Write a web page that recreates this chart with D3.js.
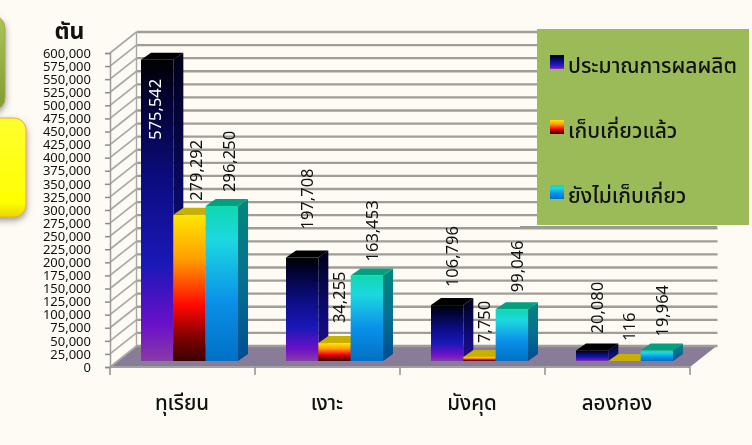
<!DOCTYPE html>
<html>
<head>
<meta charset="utf-8">
<script src="https://cdn.jsdelivr.net/npm/d3@7"></script>
<style>
  html, body { margin: 0; padding: 0; background: #fefbf5; overflow: hidden; }
  text { font-family: "Noto Sans", "Noto Sans Thai", Tahoma, sans-serif; fill: #111; }
  svg { filter: blur(0.35px); }
</style>
</head>
<body>
<script>
const categories = ['ทุเรียน', 'เงาะ', 'มังคุด', 'ลองกอง']
const seriesNames = ['ประมาณการผลผลิต', 'เก็บเกี่ยวแล้ว', 'ยังไม่เก็บเกี่ยว']
const forecast = [575542, 197708, 106796, 20080]
const harvested = [279292, 34255, 7750, 116]
const notHarvested = [296250, 163453, 99046, 19964]
const yTicks = [0, 25000, 50000, 75000, 100000, 125000, 150000, 175000, 200000, 225000, 250000, 275000, 300000,
  325000, 350000, 375000, 400000, 425000, 450000, 475000, 500000, 525000, 550000, 575000, 600000]
const unit = 'ตัน'

const seriesValues = [forecast, harvested, notHarvested]
const gradStops = [
  [[0, '#000000'], [0.12, '#02022e'], [0.4, '#0c0c80'], [0.68, '#1a18b8'], [0.88, '#6a10c8'], [1, '#8a3aa8']],
  [[0, '#ffe600'], [0.3, '#ffa000'], [0.62, '#ff0800'], [0.85, '#7a0000'], [1, '#3a0000']],
  [[0, '#10d8b0'], [0.22, '#1cd8e0'], [0.62, '#0a90e8'], [1, '#0070c4']]
]
const topColors = ['#000000', '#c8b000', '#00a080']
const sideStops = [
  [[0, '#000018'], [0.6, '#0c0c78'], [1, '#2a0c80']],
  [[0, '#a08000'], [1, '#300000']],
  [[0, '#008878'], [0.5, '#087090'], [1, '#004c90']]
]

const m = { width: 752, height: 445 }
const depth = { x: 26.5, y: 21 }
const barDepth = { x: 10, y: 7 }
const floorLift = 6
// hand placed labels in the original, extra lift per category then series
const labelLift = [[0, 0, 0], [14, 6, 0], [4, 0, 3], [3, 6, 0]]

const svg = d3.select('body').append('svg')
  .attr('width', m.width)
  .attr('height', m.height)
  .style('display', 'block')

const defs = svg.append('defs')

function addGradient(id, stops) {
  const g = defs.append('linearGradient').attr('id', id)
    .attr('x1', 0).attr('y1', 0).attr('x2', 0).attr('y2', 1)
  stops.forEach(s => g.append('stop').attr('offset', s[0]).attr('stop-color', s[1]))
}
gradStops.forEach((s, i) => addGradient('front' + i, s))
sideStops.forEach((s, i) => addGradient('side' + i, s))
addGradient('greenBox', [[0, '#a8c45c'], [1, '#7f9c34']])
addGradient('yellowBox', [[0, '#ffff30'], [0.85, '#ffff00'], [1, '#e8d800']])

const blur = defs.append('filter').attr('id', 'shadow')
  .attr('x', '-30%').attr('y', '-30%').attr('width', '160%').attr('height', '160%')
blur.append('feDropShadow').attr('dx', 0).attr('dy', 3).attr('stdDeviation', 3)
  .attr('flood-color', '#555').attr('flood-opacity', 0.6)

const y = d3.scaleLinear().domain([0, 600000]).range([367, 53])
const x0 = d3.scaleBand().domain(categories).range([110, 690])
const x1 = d3.scaleBand().domain(d3.range(3)).range([31, 128])

// left hand boxes cut off by the slide edge
svg.append('rect').attr('x', -30).attr('y', 16).attr('width', 35).attr('height', 94).attr('rx', 12)
  .attr('fill', 'url(#greenBox)').attr('stroke', '#b5a040').attr('filter', 'url(#shadow)')
svg.append('rect').attr('x', -30).attr('y', 118).attr('width', 56).attr('height', 99).attr('rx', 12)
  .attr('fill', 'url(#yellowBox)').attr('stroke', '#f0a830').attr('filter', 'url(#shadow)')

// floor
const floor = d3.path()
floor.moveTo(110, y(0))
floor.lineTo(690, y(0))
floor.lineTo(690 + depth.x, y(0) - depth.y)
floor.lineTo(110 + depth.x, y(0) - depth.y)
floor.closePath()
svg.append('path').attr('d', floor.toString()).attr('fill', '#897c98')

// wall grid
const grid = svg.append('g')
grid.selectAll('.gridH').data(yTicks).enter().append('line')
  .attr('x1', 110 + depth.x).attr('x2', 690 + depth.x + 1)
  .attr('y1', d => y(d) - depth.y).attr('y2', d => y(d) - depth.y)
  .attr('stroke', '#a09c96').attr('stroke-width', 2.4)
grid.selectAll('.gridD').data(yTicks).enter().append('line')
  .attr('x1', 110).attr('x2', 110 + depth.x)
  .attr('y1', d => y(d)).attr('y2', d => y(d) - depth.y)
  .attr('stroke', '#a8a8a4').attr('stroke-width', 1.7)
grid.append('line').attr('x1', 110 + depth.x).attr('x2', 110 + depth.x)
  .attr('y1', y(600000) - depth.y).attr('y2', y(0) - depth.y)
  .attr('stroke', '#a8a8a4').attr('stroke-width', 1.4)

// axes
const yAxis = svg.append('g').attr('transform', 'translate(110,0)')
  .call(d3.axisLeft(y).tickValues(yTicks).tickFormat(d3.format(',')).tickSize(5).tickPadding(14))
yAxis.selectAll('text').style('font-size', '13px').attr('fill', '#111')
yAxis.selectAll('line').attr('stroke', '#8c8c8c').attr('stroke-width', 1.5)
yAxis.select('.domain').attr('stroke', '#9a9a9a').attr('stroke-width', 1.5)

const xAxis = svg.append('g').attr('transform', 'translate(0,' + y(0) + ')')
xAxis.append('line').attr('x1', 110).attr('x2', 690).attr('stroke', '#a0a0a0').attr('stroke-width', 2)
xAxis.selectAll('.tick').data(d3.range(5)).enter().append('line')
  .attr('x1', d => 110 + d * x0.bandwidth()).attr('x2', d => 110 + d * x0.bandwidth())
  .attr('y1', 0).attr('y2', 8)
  .attr('stroke', '#909090').attr('stroke-width', 1.5)

svg.selectAll('.cat').data(categories).enter().append('text')
  .attr('x', d => x0(d) + x0.bandwidth() / 2 - 0.5)
  .attr('y', 410)
  .attr('text-anchor', 'middle')
  .style('font-size', '20.5px')
  .style('font-weight', 500)
  .text(d => d)

// 3d bars, front row left to right so later ones cover the earlier side faces
const bars = svg.append('g')
categories.forEach((cat, c) => {
  seriesValues.forEach((vals, s) => {
    const left = x0(cat) + x1(s)
    const right = left + x1.bandwidth()
    const base = y(0) - floorLift
    const top = y(vals[c]) - floorLift

    const side = d3.path()
    side.moveTo(right, top)
    side.lineTo(right + barDepth.x, top - barDepth.y)
    side.lineTo(right + barDepth.x, base - barDepth.y)
    side.lineTo(right, base)
    side.closePath()
    bars.append('path').attr('d', side.toString()).attr('fill', 'url(#side' + s + ')')

    const roof = d3.path()
    roof.moveTo(left, top)
    roof.lineTo(left + barDepth.x, top - barDepth.y)
    roof.lineTo(right + barDepth.x, top - barDepth.y)
    roof.lineTo(right, top)
    roof.closePath()
    bars.append('path').attr('d', roof.toString()).attr('fill', topColors[s])

    if (base - top > 0.5) {
      bars.append('rect').attr('x', left).attr('y', top)
        .attr('width', x1.bandwidth()).attr('height', base - top)
        .attr('fill', 'url(#front' + s + ')')
    }
  })
})

// value labels
categories.forEach((cat, c) => {
  seriesValues.forEach((vals, s) => {
    const cx = x0(cat) + x1(s) + x1.bandwidth() / 2 + barDepth.x - (c === 0 ? 3 : 5)
    const inside = vals[c] > 500000
    const labelX = inside ? cx - 9 : cx
    const labelY = inside ? y(vals[c]) + 74 : y(vals[c]) - floorLift - barDepth.y - 7 - labelLift[c][s]
    svg.append('text')
      .attr('transform', 'translate(' + labelX + ',' + labelY + ') rotate(-90)')
      .attr('dy', '0.35em')
      .style('font-size', '16.5px')
      .style('fill', inside ? '#ffffff' : '#111')
      .text(d3.format(',')(vals[c]))
  })
})

// unit
svg.append('text').attr('x', 69.5).attr('y', 39).attr('text-anchor', 'middle')
  .style('font-size', '23px').style('font-weight', 700).text(unit)

// legend
svg.append('rect').attr('x', 520).attr('y', 226).attr('width', 197).attr('height', 2)
  .attr('fill', '#999')
svg.append('rect').attr('x', 537).attr('y', 29).attr('width', 212).attr('height', 196).attr('fill', '#9bbb59')
const legend = svg.selectAll('.legend').data(seriesNames).enter().append('g')
  .attr('transform', (d, i) => 'translate(550,' + (55 + i * 65) + ')')
legend.append('rect').attr('width', 14).attr('height', 14).attr('fill', (d, i) => 'url(#front' + i + ')')
legend.append('text').attr('x', 18).attr('y', 18)
  .style('font-size', '21px').style('font-weight', 500).text(d => d)
</script>
</body>
</html>
